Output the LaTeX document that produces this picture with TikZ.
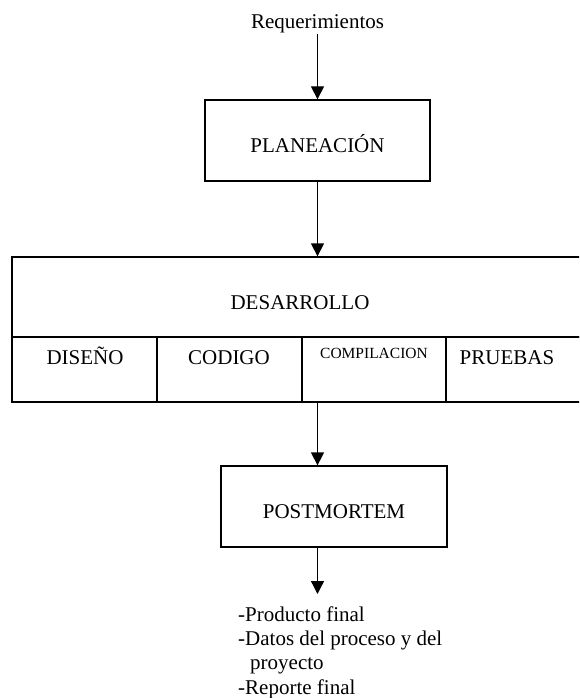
\documentclass[tikz,border=0pt]{standalone}
\usepackage{fontspec}
\setmainfont{Liberation Serif}
\usetikzlibrary{arrows.meta}
\begin{document}
\begin{tikzpicture}[x=1pt,y=-1pt,
  box/.style={draw, line width=1.3pt, rectangle, inner sep=0pt},
  lbl/.style={font=\fontsize{21}{24}\selectfont, anchor=base, inner sep=0pt},
  lbll/.style={font=\fontsize{21}{24}\selectfont, anchor=base west, inner sep=0pt},
  smalllbl/.style={font=\fontsize{15.5}{18}\selectfont, anchor=base, inner sep=0pt},
  arr/.style={line width=1.3pt, -{Triangle[width=13pt,length=13pt]}}]
\useasboundingbox (0,0) rectangle (579,698);
\clip (0,0) rectangle (579,698);
% top input
\node[lbl] (req) at (317.5,29) {Requerimientos};
% planeacion
\node[box, minimum width=225pt, minimum height=81pt] (plan) at (317.5,140.5) {};
\node[lbl] (planl) at (317.5,152) {PLANEACIÓN};
% desarrollo
\node[box, minimum width=578pt, minimum height=80pt] (des) at (301,297) {};
\node[lbl] (desl) at (300,309) {DESARROLLO};
\node[box, minimum width=145pt, minimum height=65pt] (c1) at (84.5,369.5) {};
\node[box, minimum width=145pt, minimum height=65pt] (c2) at (229.5,369.5) {};
\node[box, minimum width=144pt, minimum height=65pt] (c3) at (374,369.5) {};
\node[box, minimum width=144pt, minimum height=65pt] (c4) at (518,369.5) {};
\node[lbl] (c1l) at (85,364) {DISEÑO};
\node[lbl] (c2l) at (229,364) {CODIGO};
\node[smalllbl] (c3l) at (374,358) {COMPILACION};
\node[lbl] (c4l) at (507,364) {PRUEBAS};
% postmortem
\node[box, minimum width=226pt, minimum height=81pt] (post) at (334,506.5) {};
\node[lbl] (postl) at (334,518) {POSTMORTEM};
\coordinate (out) at (317.5,594);
% outputs
\node[lbll] (o1) at (238,621) {-Producto final};
\node[lbll] (o2) at (238,645.5) {-Datos del proceso y del};
\node[lbll] (o3) at (250,669.5) {proyecto};
\node[lbll] (o4) at (238,694) {-Reporte final};
% connectors
\draw[arr] (req.south) -- (req.south |- plan.north);
\draw[arr] (plan.south) -- (plan.south |- des.north);
\draw[arr] (c3.south -| plan.south) -- (post.north -| plan.south);
\draw[arr] (post.south -| plan.south) -- (out);
\end{tikzpicture}
\end{document}
